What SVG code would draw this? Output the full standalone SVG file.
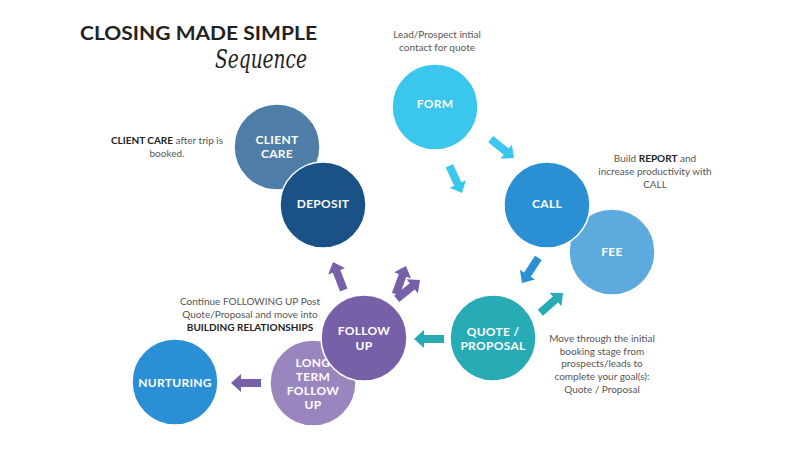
<svg xmlns="http://www.w3.org/2000/svg" xmlns:xlink="http://www.w3.org/1999/xlink" width="800" height="450" viewBox="0 0 800 450">
<style>
.c{stroke:#fff;stroke-width:1.5}
.lb{font-family:Lato,"Open Sans",sans-serif;font-weight:700;font-size:12px;fill:#fff;text-anchor:middle;letter-spacing:0.3px}
.d{font-family:Lato,"Open Sans",sans-serif;font-size:10px;fill:#555;text-anchor:middle}
.d tspan.b{font-weight:700;fill:#222}
.t{font-family:Lato,"Open Sans",sans-serif;font-weight:700;font-size:18px;fill:#222}
.s{font-family:"DejaVu Serif",serif;font-style:italic;font-size:26px;fill:#222}
</style>
<defs>
<path id="arr" d="M-30,-4 H-10 V-9 L0,0 L-10,9 V4 H-30 Z"/>
</defs>
<rect width="800" height="450" fill="#fff"/>
<text class="t" x="80" y="40" textLength="237" lengthAdjust="spacingAndGlyphs">CLOSING MADE SIMPLE</text>
<text class="s" x="215" y="68" textLength="92" lengthAdjust="spacingAndGlyphs">Sequence</text>

<g id="connectors">
<use xlink:href="#arr" href="#arr" fill="#3BC6EE" transform="translate(514,158) rotate(39)"/>
<use xlink:href="#arr" href="#arr" fill="#3BC6EE" transform="translate(462,193) rotate(65)"/>
<use xlink:href="#arr" href="#arr" fill="#2B8FD4" transform="translate(522,283) rotate(123)"/>
<use xlink:href="#arr" href="#arr" fill="#27ABB4" transform="translate(563,293) rotate(-41)"/>
<use xlink:href="#arr" href="#arr" fill="#27ABB4" transform="translate(414,339) rotate(180)"/>
<use xlink:href="#arr" href="#arr" fill="#7660A8" transform="translate(231,383) rotate(180)"/>
<use xlink:href="#arr" href="#arr" fill="#7660A8" transform="translate(333,262) rotate(-111)"/>
<use xlink:href="#arr" href="#arr" fill="#7660A8" transform="translate(406,266) rotate(-70)"/>
<use xlink:href="#arr" href="#arr" fill="#7660A8" transform="translate(420,280) rotate(-39)"/>
</g>

<g id="form">
<circle class="c" cx="435" cy="107" r="43" fill="#3BC6EE"/>
<text class="lb" x="435" y="108">FORM</text>
</g>
<g id="fee">
<circle class="c" cx="612" cy="252" r="43" fill="#5DAADF"/>
<text class="lb" x="612" y="256">FEE</text>
</g>
<g id="call">
<circle class="c" cx="547" cy="205" r="43" fill="#2B8FD4"/>
<text class="lb" x="547" y="208">CALL</text>
</g>
<g id="client-care">
<circle class="c" cx="277" cy="147" r="43" fill="#4E7EA8"/>
<text class="lb" x="277" y="144">CLIENT</text>
<text class="lb" x="277" y="158">CARE</text>
</g>
<g id="deposit">
<circle class="c" cx="323" cy="205" r="43" fill="#1A5288"/>
<text class="lb" x="323" y="208">DEPOSIT</text>
</g>
<g id="quote">
<circle class="c" cx="493" cy="338" r="43" fill="#27ABB4"/>
<text class="lb" x="493" y="336">QUOTE /</text>
<text class="lb" x="493" y="350">PROPOSAL</text>
</g>
<g id="long-term">
<circle class="c" cx="313" cy="383" r="43" fill="#9A86BE"/>
<text class="lb" x="313" y="367">LONG</text>
<text class="lb" x="313" y="381">TERM</text>
<text class="lb" x="313" y="395">FOLLOW</text>
<text class="lb" x="313" y="409">UP</text>
</g>
<g id="follow-up">
<circle class="c" cx="364" cy="338" r="43" fill="#7660A8"/>
<text class="lb" x="364" y="335">FOLLOW</text>
<text class="lb" x="364" y="350">UP</text>
</g>
<g id="nurturing">
<circle class="c" cx="175" cy="382" r="43" fill="#2A8FD5"/>
<text class="lb" x="175" y="387">NURTURING</text>
</g>

<g id="notes">
<text class="d" x="437" y="38">Lead/Prospect intial</text>
<text class="d" x="437" y="51">contact for quote</text>
<text class="d" x="167" y="144"><tspan class="b">CLIENT CARE</tspan> after trip is</text>
<text class="d" x="167" y="157">booked.</text>
<text class="d" x="655" y="162">Build <tspan class="b">REPORT</tspan> and</text>
<text class="d" x="655" y="175">increase productivity with</text>
<text class="d" x="655" y="188">CALL</text>
<text class="d" x="250" y="305">Continue FOLLOWING UP Post</text>
<text class="d" x="250" y="318">Quote/Proposal and move into</text>
<text class="d" x="250" y="331"><tspan class="b">BUILDING RELATIONSHIPS</tspan></text>
<text class="d" x="602" y="342">Move through the initial</text>
<text class="d" x="602" y="355">booking stage from</text>
<text class="d" x="602" y="367">prospects/leads to</text>
<text class="d" x="602" y="380">complete your goal(s):</text>
<text class="d" x="602" y="393">Quote / Proposal</text>
</g>
</svg>
